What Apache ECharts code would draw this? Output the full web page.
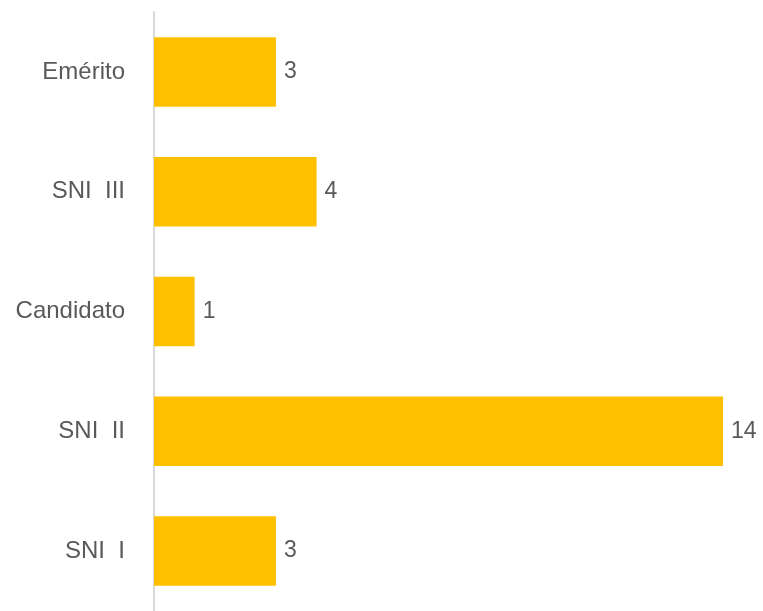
<!DOCTYPE html>
<html>
<head>
<meta charset="utf-8">
<script src="https://cdn.jsdelivr.net/npm/echarts@6/dist/echarts.min.js"></script>
<style>
html,body{margin:0;padding:0;background:#fff;}
#chart{width:763px;height:611px;}
</style>
</head>
<body>
<div id="chart"></div>
<script>
const categories = ['SNI  I', 'SNI  II', 'Candidato', 'SNI  III', 'Emérito'];
const values = [3, 14, 1, 4, 3];

const chart = echarts.init(document.getElementById('chart'));
chart.setOption({
  animation: false,
  grid: { left: 154, right: 40, top: 12, bottom: 0, containLabel: false },
  xAxis: {
    type: 'value', min: 0, max: 14, show: false
  },
  yAxis: {
    type: 'category',
    data: categories,
    axisLine: { show: true, lineStyle: { color: '#d9d9d9', width: 2 } },
    axisTick: { show: false },
    axisLabel: { color: '#595959', fontSize: 24, fontFamily: 'Liberation Sans, Arial, sans-serif', margin: 29 }
  },
  series: [{
    type: 'bar',
    data: values,
    barWidth: '58%',
    itemStyle: { color: '#FFC000' },
    label: {
      show: true, position: 'right', distance: 8,
      color: '#595959', fontSize: 23, fontFamily: 'Liberation Sans, Arial, sans-serif'
    }
  }]
});
</script>
</body>
</html>
